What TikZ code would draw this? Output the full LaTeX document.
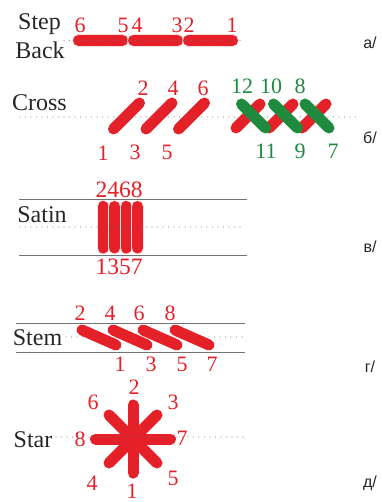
\documentclass[tikz,border=0pt]{standalone}
\usepackage{fontspec}
\setmainfont{Liberation Serif}
\newfontfamily\timesf{Liberation Serif}
\newfontfamily\cyrsans{Liberation Sans}
\definecolor{stred}{RGB}{228,32,40}
\definecolor{stgreen}{RGB}{30,138,62}
\begin{document}
\begin{tikzpicture}[x=1pt,y=-1pt,
  bar/.style={line width=11pt, line cap=round, draw=stred},
  gbar/.style={line width=11pt, line cap=round, draw=stgreen},
  rim/.style={line width=12.5pt, line cap=round, draw=white!85!stred},
  dots/.style={draw=black!55, line width=1.4pt, line cap=round, dash pattern=on 0pt off 5.5pt, opacity=0.8},
  guide/.style={draw=black!55, line width=1pt},
  lbl/.style={font=\timesf\fontsize{24}{24}\selectfont, inner sep=0pt, text=black!85},
  num/.style={font=\timesf\fontsize{22}{22}\selectfont, inner sep=0pt, text=stred},
  gnum/.style={font=\timesf\fontsize{22}{22}\selectfont, inner sep=0pt, text=stgreen},
  tag/.style={font=\cyrsans\fontsize{16}{16}\selectfont, inner sep=0pt, text=black!85}]
\useasboundingbox (0,0) rectangle (381,502);

% ---------- a/ Step Back ----------
\node[lbl] (stepT) at (39.5,24) {Step};
\node[lbl] (stepB) at (40,50) {Back};
\foreach \a/\b in {78.5/122.5, 133.5/177.5, 188.5/232.5}{
  \draw[rim] (\a,40.5) -- (\b,40.5);
  \draw[bar] (\a,40.5) -- (\b,40.5);
}
\draw[dots] (64,40.5) -- (245,40.5);
\node[num] (sb6) at (80,25) {6};
\node[num] (sb5) at (123,25) {5};
\node[num] (sb4) at (137,25) {4};
\node[num] (sb3) at (177,25) {3};
\node[num] (sb2) at (189,25) {2};
\node[num] (sb1) at (232,25) {1};
\node[tag] (ta) at (370,43) {а/};

% ---------- б/ Cross ----------
\node[lbl] (cross) at (39.5,102.5) {Cross};
\foreach \c in {126.5,159,191.5}{
  \draw[bar] (\c-13,129) -- (\c+13,103);
}
\foreach \c in {248,281,314}{
  \draw[bar] (\c-12,128) -- (\c+12,104);
}
\foreach \c in {253.5,285.5,317}{
  \draw[gbar] (\c-12,104) -- (\c+12,128);
}
\draw[dots] (20,117) -- (358,117);
\node[num] (c2) at (143,88) {2};
\node[num] (c4) at (173,88) {4};
\node[num] (c6) at (203,88) {6};
\node[num] (c1) at (103,153) {1};
\node[num] (c3) at (135,152) {3};
\node[num] (c5) at (167,152) {5};
\node[gnum] (c12) at (242,86) {12};
\node[gnum] (c10) at (271,86) {10};
\node[gnum] (c8) at (300,86) {8};
\node[gnum] (c11) at (266,151) {11};
\node[gnum] (c9) at (300,151) {9};
\node[gnum] (c7) at (333,151) {7};
\node[tag] (tb) at (370,138) {б/};

% ---------- в/ Satin ----------
\node[lbl] (satin) at (42,215) {Satin};
\draw[guide] (19,200) -- (247,200);
\draw[guide] (19,255) -- (247,255);
\foreach \x in {103,114.5,126,137.5}{
  \draw[rim] (\x,206.5) -- (\x,248);
  \draw[bar, line width=11pt] (\x,206.5) -- (\x,248);
}
\draw[dots] (20,227) -- (243,227);
\node[num, font=\timesf\fontsize{23.5}{23.5}\selectfont] (sat2468) at (119,190) {2468};
\node[num, font=\timesf\fontsize{23.5}{23.5}\selectfont] (sat1357) at (119,267) {1357};
\node[tag] (tv) at (370,247) {в/};

% ---------- г/ Stem ----------
\node[lbl] (stem) at (37.5,337.5) {Stem};
\draw[guide] (16,323) -- (245,323);
\draw[guide] (16,352) -- (245,352);
\draw[dots] (66,337) -- (243,337);
\foreach \x in {82,113,143,175}{
  \draw[bar] (\x,330) -- (\x+34,345);
}
\node[num] (s2) at (80,313) {2};
\node[num] (s4) at (110,313) {4};
\node[num] (s6) at (139,313) {6};
\node[num] (s8) at (170,313) {8};
\node[num] (s1) at (120,364) {1};
\node[num] (s3) at (151,364) {3};
\node[num] (s5) at (182,364) {5};
\node[num] (s7) at (212,364) {7};
\node[tag] (tg) at (370,367) {г/};

% ---------- д/ Star ----------
\node[lbl] (star) at (33,440) {Star};
\coordinate (sc) at (133,439);
\draw[bar] ([shift={(0,-34)}]sc) -- ([shift={(0,34)}]sc);
\draw[bar] ([shift={(-37.5,0)}]sc) -- ([shift={(37.5,0)}]sc);
\draw[bar] ([shift={(-24,-24)}]sc) -- ([shift={(24,24)}]sc);
\draw[bar] ([shift={(24,-24)}]sc) -- ([shift={(-24,24)}]sc);
\draw[dots] (56,437) -- (245,437);
\node[num] (st2) at (134,387) {2};
\node[num] (st6) at (93,402) {6};
\node[num] (st3) at (173,402) {3};
\node[num] (st8) at (80,439) {8};
\node[num] (st7) at (182,438) {7};
\node[num] (st4) at (92,483) {4};
\node[num] (st5) at (173,478) {5};
\node[num] (st1) at (132,491) {1};
\node[tag] (td) at (370,483) {д/};
\end{tikzpicture}
\end{document}
